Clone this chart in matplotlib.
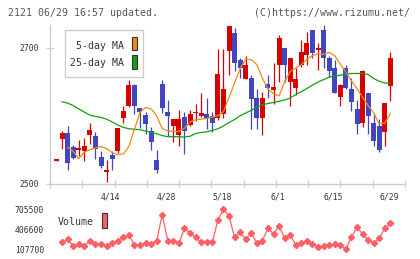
import matplotlib
matplotlib.use("Agg")
import matplotlib.pyplot as plt
import matplotlib.transforms as mtrans
from matplotlib.patches import Rectangle
import numpy as np

# ---------------- data ----------------
date_labels = ["4/14", "4/28", "5/18", "6/1", "6/15", "6/29"]
date_label_idx = [10, 20, 30, 40, 50, 60]

opens = [2534, 2566, 2575, 2554, 2550, 2548, 2572, 2570, 2540, 2518,
         2542, 2548, 2597, 2614, 2645, 2611, 2601, 2578, 2535, 2647,
         2605, 2585, 2572, 2598, 2586, 2604, 2599, 2603, 2600, 2597,
         2603, 2695, 2721, 2682, 2654, 2655, 2626, 2596, 2646, 2638,
         2675, 2700, 2650, 2640, 2674, 2689, 2726, 2696, 2726, 2685,
         2670, 2628, 2670, 2639, 2610, 2589, 2634, 2589, 2585, 2576,
         2643]
highs = [2536, 2577, 2585, 2557, 2564, 2567, 2590, 2576, 2548, 2535,
         2548, 2582, 2614, 2653, 2647, 2612, 2605, 2584, 2550, 2652,
         2623, 2595, 2608, 2606, 2609, 2617, 2633, 2626, 2605, 2698,
         2698, 2732, 2728, 2685, 2688, 2660, 2639, 2635, 2659, 2678,
         2718, 2700, 2684, 2670, 2711, 2723, 2726, 2706, 2733, 2688,
         2682, 2646, 2674, 2655, 2623, 2667, 2634, 2602, 2595, 2619,
         2694]
lows = [2534, 2552, 2520, 2536, 2541, 2534, 2559, 2537, 2523, 2503,
        2520, 2545, 2590, 2613, 2603, 2582, 2574, 2550, 2516, 2604,
        2570, 2562, 2556, 2544, 2585, 2592, 2598, 2580, 2576, 2594,
        2596, 2659, 2666, 2655, 2654, 2581, 2581, 2572, 2626, 2617,
        2650, 2650, 2615, 2630, 2672, 2674, 2684, 2667, 2670, 2657,
        2633, 2615, 2639, 2607, 2574, 2583, 2573, 2555, 2547, 2556,
        2622]
closes = [2536, 2575, 2531, 2538, 2553, 2556, 2579, 2551, 2526, 2520,
          2537, 2582, 2607, 2645, 2614, 2605, 2588, 2562, 2520, 2612,
          2600, 2595, 2595, 2577, 2603, 2606, 2604, 2596, 2590, 2661,
          2639, 2731, 2678, 2670, 2675, 2625, 2597, 2626, 2641, 2642,
          2714, 2675, 2684, 2654, 2693, 2706, 2692, 2700, 2684, 2665,
          2633, 2645, 2641, 2620, 2588, 2666, 2600, 2563, 2550, 2619,
          2685]

# 5-day MA (starts at index 2)
ma5 = [2554, 2548, 2537, 2547, 2550, 2553, 2555, 2552, 2546, 2543,
       2544, 2555, 2580, 2605, 2612, 2610, 2600, 2581, 2578, 2577,
       2577, 2582, 2591, 2594, 2595, 2596, 2598, 2600, 2606, 2627,
       2648, 2669, 2683, 2682, 2675, 2655, 2639, 2632, 2629, 2650,
       2665, 2670, 2675, 2683, 2688, 2691, 2690, 2693, 2688, 2676,
       2664, 2651, 2640, 2627, 2615, 2604, 2588, 2589, 2603]
ma5_start = 2
# 25-day MA (starts at index 1)
ma25 = [2620.5, 2618.5, 2615, 2610, 2605.5, 2601, 2599, 2597.5, 2595, 2591,
        2586.5, 2583, 2581, 2580.3, 2579.5, 2577.5, 2575.8, 2573.8, 2571, 2569.3,
        2569.3, 2569.3, 2568.8, 2570, 2574, 2575.5, 2576.5, 2578.5, 2581, 2585,
        2590, 2594.5, 2600, 2604, 2608, 2612.5, 2616, 2618, 2619.5, 2621.3,
        2623, 2626, 2631, 2635.5, 2640, 2645, 2649.5, 2653, 2656.5, 2658.5,
        2659.5, 2661, 2662, 2662, 2662, 2660.5, 2654.5, 2650.5, 2648, 2647.5]
ma25_start = 1

# volume (starts at index 1)
volume = [212300, 261600, 157000, 186900, 157000, 236200, 182400, 182400, 152500, 197400,
          227300, 291500, 321400, 172000, 172000, 197400, 186900, 236200, 620300, 236200,
          227300, 197400, 421500, 346800, 287000, 212300, 212300, 212300, 541100, 705500,
          605400, 287000, 361800, 257100, 346800, 206300, 236200, 421500, 336400, 455900,
          272100, 321400, 172000, 197400, 236200, 186900, 137600, 157000, 167500, 182400,
          167500, 107700, 287000, 436500, 336400, 246700, 197400, 272100, 421500, 496300]
vol_start = 1
vol_ticks = [107700, 406600, 705500]

# ---------------- style ----------------
W, H = 420, 259
RED = "#d90000"
BLUE = "#3f46c0"
ORANGE = "#f08c10"
GREEN = "#12a012"
VOLC = "#ff5f64"
GRAY = "#cccccc"
TXT = "#333333"
MONO = "DejaVu Sans Mono"

def fx(px):
    return px / W

def fy(py):
    return 1 - py / H

fig = plt.figure(figsize=(W / 100, H / 100), dpi=100)

# pixel mapping of index -> x
x0_px, dx_px = 56.5, 5.565
ax_left, ax_right = 50, 405
xlim = ((ax_left - x0_px) / dx_px, (ax_right - x0_px) / dx_px)

ax = fig.add_axes([fx(ax_left), fy(184), fx(ax_right - ax_left), (184 - 25) / H])
ax.set_xlim(*xlim)
ax.set_ylim(2500, 2733)
ax.patch.set_alpha(0)
for s in ["top", "right"]:
    ax.spines[s].set_visible(False)
for s in ["left", "bottom"]:
    ax.spines[s].set_color(GRAY)
    ax.spines[s].set_linewidth(1.0)

ax.set_yticks([2500, 2700])
ax.set_yticklabels(["2500", "2700"], fontsize=5.8, family=MONO, color=TXT)
ax.set_xticks(np.linspace(xlim[0], xlim[1], 12))
ax.set_xticklabels([])
ax.tick_params(axis="both", direction="inout", length=5.8, width=0.8, color=GRAY)
ax.tick_params(axis="y", pad=4.8)

idx = np.arange(len(opens))
o = np.array(opens, float)
c = np.array(closes, float)
hi = np.array(highs, float)
lo = np.array(lows, float)
up = c >= o
colors = np.where(up, RED, BLUE)
ax.vlines(idx, lo, hi, colors=colors, linewidth=0.9, zorder=2)
bottom = np.minimum(o, c)
height = np.maximum(np.abs(c - o), 2.2)
ax.bar(idx, height, bottom=bottom, width=0.9, color=colors, linewidth=0, zorder=3)

ax.plot(np.arange(ma25_start, ma25_start + len(ma25)), ma25, color=GREEN, lw=0.9, zorder=4)
ax.plot(np.arange(ma5_start, ma5_start + len(ma5)), ma5, color=ORANGE, lw=0.9, zorder=4)

# legend box
fig.patches.append(Rectangle((fx(65), fy(77)), fx(78), 47 / H, transform=fig.transFigure,
                             facecolor="white", edgecolor=GRAY, lw=1.0, zorder=5))
fig.text(fx(124.5), fy(46.3), "5-day MA", ha="right", va="center", fontsize=7.1,
         family=MONO, color=TXT, zorder=6)
fig.text(fx(124.5), fy(62.8), "25-day MA", ha="right", va="center", fontsize=7.1,
         family=MONO, color=TXT, zorder=6)
fig.patches.append(Rectangle((fx(131.7), fy(50)), fx(5.6), 13 / H, transform=fig.transFigure,
                             facecolor=ORANGE, edgecolor="#333333", lw=0.8, zorder=6))
fig.patches.append(Rectangle((fx(131.7), fy(69)), fx(5.6), 14 / H, transform=fig.transFigure,
                             facecolor=GREEN, edgecolor="#333333", lw=0.8, zorder=6))

# date labels
trans = mtrans.blended_transform_factory(ax.transData, fig.transFigure)
for lab, i in zip(date_labels, date_label_idx):
    fig.text(i - 0.25, fy(197), lab, transform=trans, ha="center", va="center",
             fontsize=5.8, family=MONO, color=TXT)

# header
fig.text(fx(8), fy(12.5), "2121 06/29 16:57 updated.", ha="left", va="center",
         fontsize=7.1, family=MONO, color="#555555")
fig.text(fx(409.5), fy(12.5), "(C)https://www.rizumu.net/", ha="right", va="center",
         fontsize=7.1, family=MONO, color="#555555")

# volume panel
vax = fig.add_axes([fx(ax_left), fy(249.3), fx(ax_right - ax_left), 40.1 / H])
vax.set_xlim(*xlim)
vax.set_ylim(vol_ticks[0], vol_ticks[-1])
vax.patch.set_alpha(0)
for s in vax.spines.values():
    s.set_visible(False)
vax.set_xticks([])
vax.set_yticks(vol_ticks)
vax.set_yticklabels([str(v) for v in vol_ticks], fontsize=5.8, family=MONO, color=TXT)
vax.tick_params(axis="y", length=0, pad=4.3)
vax.plot(np.arange(vol_start, vol_start + len(volume)), volume, color=VOLC, lw=0.9,
         marker="D", ms=3.1, mec=VOLC, mfc=VOLC, clip_on=False)

fig.text(fx(58), fy(222), "Volume", ha="left", va="center", fontsize=7.1,
         family=MONO, color=TXT)
fig.patches.append(Rectangle((fx(101.7), fy(228)), fx(5.6), 15 / H, transform=fig.transFigure,
                             facecolor=VOLC, edgecolor="#333333", lw=0.8, zorder=6))

fig.savefig("out.png", dpi=100)
